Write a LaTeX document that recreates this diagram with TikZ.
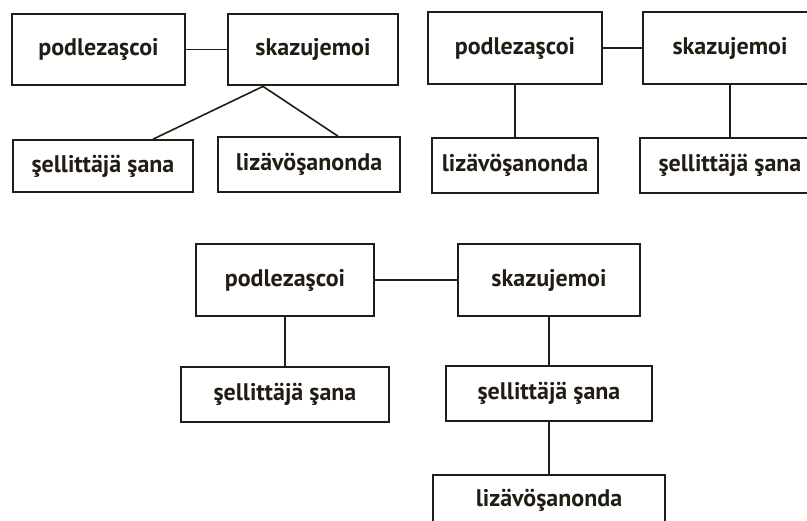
\documentclass[tikz,border=0pt]{standalone}
\usepackage{fontspec}
\setmainfont{PT Sans}
\usetikzlibrary{positioning}
\definecolor{ink}{HTML}{211C14}

\begin{document}
\begin{tikzpicture}[x=1pt, y=-1pt,
    main/.style={rectangle, draw=ink, line width=2.8pt, minimum height=71pt, inner sep=0pt, text=ink, font=\fontsize{24}{28}\bfseries\selectfont},
    sub/.style={main, line width=1.6pt, minimum height=55pt},
    link/.style={draw=ink, line width=1.6pt}]
        \useasboundingbox (0,0) rectangle (807,521);
        \clip (0,0) rectangle (807,521);
        % first scheme
        \node[main, minimum width=173pt] (pod_1) at (98.5,49.5) {podlezaşcoi};
        \node[main, minimum width=170pt] (ska_1) at (313,49.5) {skazujemoi};
        \node[sub, minimum width=180pt, minimum height=52pt] (sel_1) at (103,166) {şellittäjä şana};
        \node[sub, minimum width=182pt] (liz_1) at (309,164.5) {lizävöşanonda};
        \coordinate (top_1) at ([xshift=-50pt]ska_1.south);
        
        \path (pod_1) edge [link] (ska_1);
        \path (top_1) edge [link] ([xshift=50pt]sel_1.north);
        \path (top_1) edge [link] ([xshift=29pt]liz_1.north);
        
        % second scheme
        \node[main, minimum width=174pt, minimum height=72pt] (pod_2) at (515,48) {podlezaşcoi};
        \node[main, minimum width=174pt, minimum height=72pt] (ska_2) at (730,48) {skazujemoi};
        \node[sub, minimum width=166pt] (liz_2) [below = 52pt of pod_2] {lizävöşanonda};
        \node[sub, minimum width=180pt] (sel_2) [below = 52pt of ska_2] {şellittäjä şana};
        
        \path (pod_2) edge [link] (ska_2);
        \path (pod_2) edge [link] (liz_2);
        \path (ska_2) edge [link] (sel_2);
        
        % third scheme
        \node[main, minimum width=178pt, minimum height=72pt] (pod_3) at (285,280) {podlezaşcoi};
        \node[main, minimum width=182pt, minimum height=72pt] (ska_3) at (549,280) {skazujemoi};
        \node[sub, minimum width=208pt] (sel_3) [below = 49pt of pod_3] {şellittäjä şana};
        \node[sub, minimum width=206pt] (sel_4) [below = 48pt of ska_3] {şellittäjä şana};
        \node[sub, minimum width=232pt, minimum height=52pt] (liz_3) [below = 52pt of sel_4] {lizävöşanonda};
        
        \path (pod_3) edge [link] (ska_3);
        \path (pod_3) edge [link] (sel_3);
        \path (ska_3) edge [link] (sel_4);
        \path (sel_4) edge [link] (liz_3);
    \end{tikzpicture}
\end{document}
